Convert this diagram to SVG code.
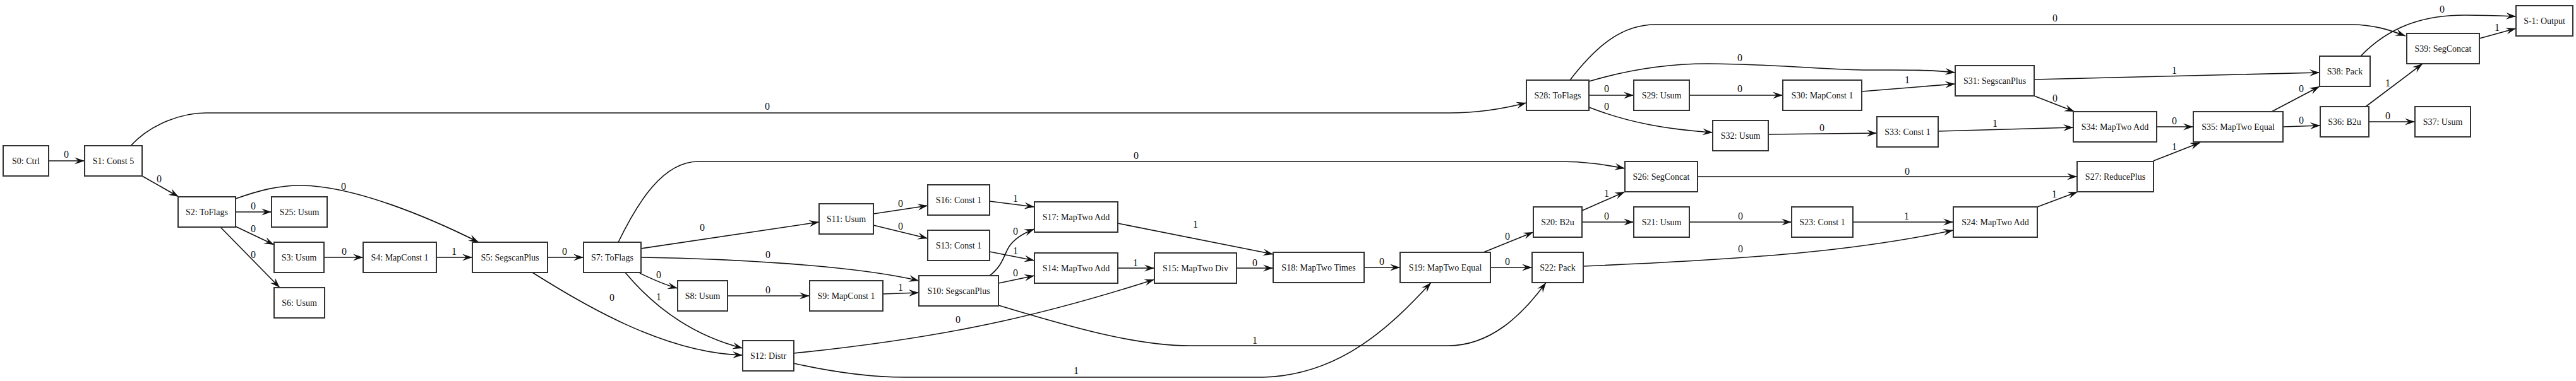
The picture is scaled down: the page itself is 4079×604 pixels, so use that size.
<svg xmlns="http://www.w3.org/2000/svg" width="4079" height="604" viewBox="0 0 4079 604">
<style>
.n rect{fill:#fff;stroke:#333;stroke-width:2}
.n text{font-family:"Liberation Serif","DejaVu Serif",serif;font-size:14px;fill:#111;text-anchor:middle}
#edges path{fill:none;stroke:#111;stroke-width:1.6;marker-end:url(#arr)}
#edges text{font-family:"Liberation Serif","DejaVu Serif",serif;font-size:16px;fill:#111;text-anchor:middle}
</style>
<defs>
<marker id="arr" markerUnits="userSpaceOnUse" markerWidth="18" markerHeight="14" refX="16" refY="7" orient="auto">
<path d="M16,7 L0,1.5 L6,7 L0,12.5 Z" fill="#111"/>
</marker>
</defs>
<rect width="4079" height="604" fill="#fff"/>
<g id="edges">
<path d="M77,255 L134,255"/><text x="105" y="250">0</text>
<path d="M207,231 C240,195 290,179 326,179 L2295,179 C2350,179 2390,170 2417,163"/><text x="1215" y="174">0</text>
<path d="M225,279 L283,312"/><text x="252" y="289">0</text>
<path d="M373,336 L430,336"/><text x="401" y="332">0</text>
<path d="M373,359 L434,388"/><text x="401" y="368">0</text>
<path d="M349,360 L443,456"/><text x="401" y="409">0</text>
<path d="M373,315 C410,302 440,294 475,294 C560,294 680,345 758,384"/><text x="544" y="301">0</text>
<path d="M513,408 L575,408"/><text x="545" y="404">0</text>
<path d="M691,408 L748,408"/><text x="719" y="404">1</text>
<path d="M867,408 L924,408"/><text x="894" y="404">0</text>
<path d="M843,432 C920,480 1050,560 1176,563"/><text x="969" y="477">0</text>
<path d="M979,384 C1010,320 1050,256 1106,256 L2471,256 C2510,256 2540,261 2573,267"/><text x="1799" y="252">0</text>
<path d="M1015,394 L1297,352"/><text x="1112" y="366">0</text>
<path d="M1015,408 C1150,410 1350,420 1455,445"/><text x="1216" y="409">0</text>
<path d="M1013,433 C1030,441 1050,451 1073,457"/><text x="1043" y="441">0</text>
<path d="M990,432 C1030,480 1090,530 1176,552"/><text x="1043" y="476">1</text>
<path d="M1152,469 L1282,469"/><text x="1216" y="465">0</text>
<path d="M1398,466 L1455,464"/><text x="1426" y="461">1</text>
<path d="M1383,339 L1469,326"/><text x="1426" y="328">0</text>
<path d="M1383,357 L1469,378"/><text x="1426" y="364">0</text>
<path d="M1567,319 L1638,328"/><text x="1608" y="320">1</text>
<path d="M1567,437 C1590,420 1590,400 1600,388 C1610,375 1625,368 1638,363"/><text x="1608" y="372">0</text>
<path d="M1567,399 L1638,413"/><text x="1608" y="403">1</text>
<path d="M1581,449 L1638,437"/><text x="1608" y="438">0</text>
<path d="M1581,484 C1700,520 1800,548 1883,548 L2293,548 C2360,548 2410,500 2448,448"/><text x="1987" y="545">1</text>
<path d="M1257,560 C1500,535 1650,500 1828,443"/><text x="1517" y="512">0</text>
<path d="M1257,576 C1320,590 1380,598 1433,598 L2000,598 C2120,595 2200,520 2266,448"/><text x="1704" y="593">1</text>
<path d="M1770,425 L1828,425"/><text x="1798" y="422">1</text>
<path d="M1958,425 L2016,425"/><text x="1987" y="422">0</text>
<path d="M1770,354 L2016,403"/><text x="1893" y="361">1</text>
<path d="M2160,424 L2217,424"/><text x="2188" y="420">0</text>
<path d="M2349,400 L2428,368"/><text x="2387" y="380">0</text>
<path d="M2360,424 L2426,424"/><text x="2387" y="420">0</text>
<path d="M2505,352 L2587,352"/><text x="2544" y="348">0</text>
<path d="M2505,334 L2573,304"/><text x="2544" y="312">1</text>
<path d="M2675,352 L2837,352"/><text x="2756" y="348">0</text>
<path d="M2934,352 L3093,352"/><text x="3019" y="348">1</text>
<path d="M2507,422 C2800,410 2950,395 3093,365"/><text x="2756" y="400">0</text>
<path d="M3226,328 L3290,304"/><text x="3253" y="313">1</text>
<path d="M2688,280 L3289,280"/><text x="3020" y="277">0</text>
<path d="M3410,255 L3484,226"/><text x="3443" y="238">1</text>
<path d="M2486,127 C2530,70 2570,39 2621,39 L3723,39 C3760,39 3785,48 3809,57"/><text x="3254" y="34">0</text>
<path d="M2516,129 C2580,110 2640,101 2704,101 C2800,101 2900,111 2957,111 C3010,111 3050,110 3096,115"/><text x="2755" y="97">0</text>
<path d="M2516,151 L2587,151"/><text x="2544" y="146">0</text>
<path d="M2675,151 L2823,151"/><text x="2755" y="146">0</text>
<path d="M2516,170 C2580,195 2640,205 2712,210"/><text x="2544" y="174">0</text>
<path d="M2948,145 L3096,133"/><text x="3020" y="132">1</text>
<path d="M2800,213 L2972,211"/><text x="2885" y="208">0</text>
<path d="M3221,126 L3673,115"/><text x="3443" y="117">1</text>
<path d="M3221,152 L3285,177"/><text x="3254" y="161">0</text>
<path d="M3069,208 L3283,202"/><text x="3159" y="201">1</text>
<path d="M3415,201 L3473,201"/><text x="3443" y="197">0</text>
<path d="M3597,177 L3673,137"/><text x="3644" y="146">0</text>
<path d="M3615,201 L3674,199"/><text x="3644" y="196">0</text>
<path d="M3746,169 L3836,101"/><text x="3781" y="137">1</text>
<path d="M3751,193 L3824,193"/><text x="3781" y="189">0</text>
<path d="M3738,89 C3790,35 3850,24 3903,24 C3940,24 3960,25 3984,26"/><text x="3867" y="20">0</text>
<path d="M3926,61 L3984,45"/><text x="3954" y="49">1</text>
</g>
<g id="S0" class="n"><rect x="5" y="231" width="72" height="48"/><text x="41" y="260">S0: Ctrl</text></g>
<g id="S1" class="n"><rect x="134" y="231" width="91" height="48"/><text x="179.5" y="260">S1: Const 5</text></g>
<g id="S2" class="n"><rect x="282" y="312" width="91" height="48"/><text x="327.5" y="341">S2: ToFlags</text></g>
<g id="S25" class="n"><rect x="430" y="312" width="88" height="48"/><text x="474" y="341">S25: Usum</text></g>
<g id="S3" class="n"><rect x="434" y="384" width="79" height="48"/><text x="473.5" y="413">S3: Usum</text></g>
<g id="S6" class="n"><rect x="434" y="456" width="80" height="48"/><text x="474" y="485">S6: Usum</text></g>
<g id="S4" class="n"><rect x="575" y="384" width="116" height="48"/><text x="633" y="413">S4: MapConst 1</text></g>
<g id="S5" class="n"><rect x="748" y="384" width="119" height="48"/><text x="807.5" y="413">S5: SegscanPlus</text></g>
<g id="S7" class="n"><rect x="924" y="384" width="91" height="48"/><text x="969.5" y="413">S7: ToFlags</text></g>
<g id="S8" class="n"><rect x="1073" y="445" width="79" height="48"/><text x="1112.5" y="474">S8: Usum</text></g>
<g id="S9" class="n"><rect x="1282" y="445" width="116" height="48"/><text x="1340" y="474">S9: MapConst 1</text></g>
<g id="S10" class="n"><rect x="1455" y="437" width="126" height="48"/><text x="1518" y="466">S10: SegscanPlus</text></g>
<g id="S11" class="n"><rect x="1297" y="323" width="86" height="48"/><text x="1340" y="352">S11: Usum</text></g>
<g id="S12" class="n"><rect x="1176" y="540" width="81" height="48"/><text x="1216.5" y="569">S12: Distr</text></g>
<g id="S13" class="n"><rect x="1469" y="365" width="98" height="48"/><text x="1518" y="394">S13: Const 1</text></g>
<g id="S14" class="n"><rect x="1638" y="401" width="132" height="48"/><text x="1704" y="430">S14: MapTwo Add</text></g>
<g id="S15" class="n"><rect x="1828" y="401" width="130" height="48"/><text x="1893" y="430">S15: MapTwo Div</text></g>
<g id="S16" class="n"><rect x="1469" y="293" width="98" height="48"/><text x="1518" y="322">S16: Const 1</text></g>
<g id="S17" class="n"><rect x="1638" y="320" width="132" height="48"/><text x="1704" y="349">S17: MapTwo Add</text></g>
<g id="S18" class="n"><rect x="2016" y="400" width="144" height="48"/><text x="2088" y="429">S18: MapTwo Times</text></g>
<g id="S19" class="n"><rect x="2217" y="400" width="143" height="48"/><text x="2288.5" y="429">S19: MapTwo Equal</text></g>
<g id="S20" class="n"><rect x="2428" y="328" width="77" height="48"/><text x="2466.5" y="357">S20: B2u</text></g>
<g id="S21" class="n"><rect x="2587" y="328" width="88" height="48"/><text x="2631" y="357">S21: Usum</text></g>
<g id="S22" class="n"><rect x="2426" y="400" width="81" height="48"/><text x="2466.5" y="429">S22: Pack</text></g>
<g id="S23" class="n"><rect x="2837" y="328" width="97" height="48"/><text x="2885.5" y="357">S23: Const 1</text></g>
<g id="S24" class="n"><rect x="3093" y="328" width="133" height="48"/><text x="3159.5" y="357">S24: MapTwo Add</text></g>
<g id="S26" class="n"><rect x="2573" y="256" width="115" height="48"/><text x="2630.5" y="285">S26: SegConcat</text></g>
<g id="S27" class="n"><rect x="3289" y="256" width="121" height="48"/><text x="3349.5" y="285">S27: ReducePlus</text></g>
<g id="S28" class="n"><rect x="2417" y="127" width="99" height="48"/><text x="2466.5" y="156">S28: ToFlags</text></g>
<g id="S29" class="n"><rect x="2587" y="127" width="88" height="48"/><text x="2631" y="156">S29: Usum</text></g>
<g id="S30" class="n"><rect x="2823" y="127" width="125" height="48"/><text x="2885.5" y="156">S30: MapConst 1</text></g>
<g id="S31" class="n"><rect x="3096" y="104" width="125" height="48"/><text x="3158.5" y="133">S31: SegscanPlus</text></g>
<g id="S32" class="n"><rect x="2712" y="191" width="88" height="48"/><text x="2756" y="220">S32: Usum</text></g>
<g id="S33" class="n"><rect x="2972" y="185" width="97" height="48"/><text x="3020.5" y="214">S33: Const 1</text></g>
<g id="S34" class="n"><rect x="3283" y="177" width="132" height="48"/><text x="3349" y="206">S34: MapTwo Add</text></g>
<g id="S35" class="n"><rect x="3473" y="177" width="142" height="48"/><text x="3544" y="206">S35: MapTwo Equal</text></g>
<g id="S36" class="n"><rect x="3674" y="169" width="77" height="48"/><text x="3712.5" y="198">S36: B2u</text></g>
<g id="S37" class="n"><rect x="3824" y="169" width="88" height="48"/><text x="3868" y="198">S37: Usum</text></g>
<g id="S38" class="n"><rect x="3673" y="89" width="80" height="48"/><text x="3713" y="118">S38: Pack</text></g>
<g id="S39" class="n"><rect x="3811" y="53" width="115" height="48"/><text x="3868.5" y="82">S39: SegConcat</text></g>
<g id="S-1" class="n"><rect x="3984" y="9" width="90" height="48"/><text x="4029" y="38">S-1: Output</text></g>
</svg>
